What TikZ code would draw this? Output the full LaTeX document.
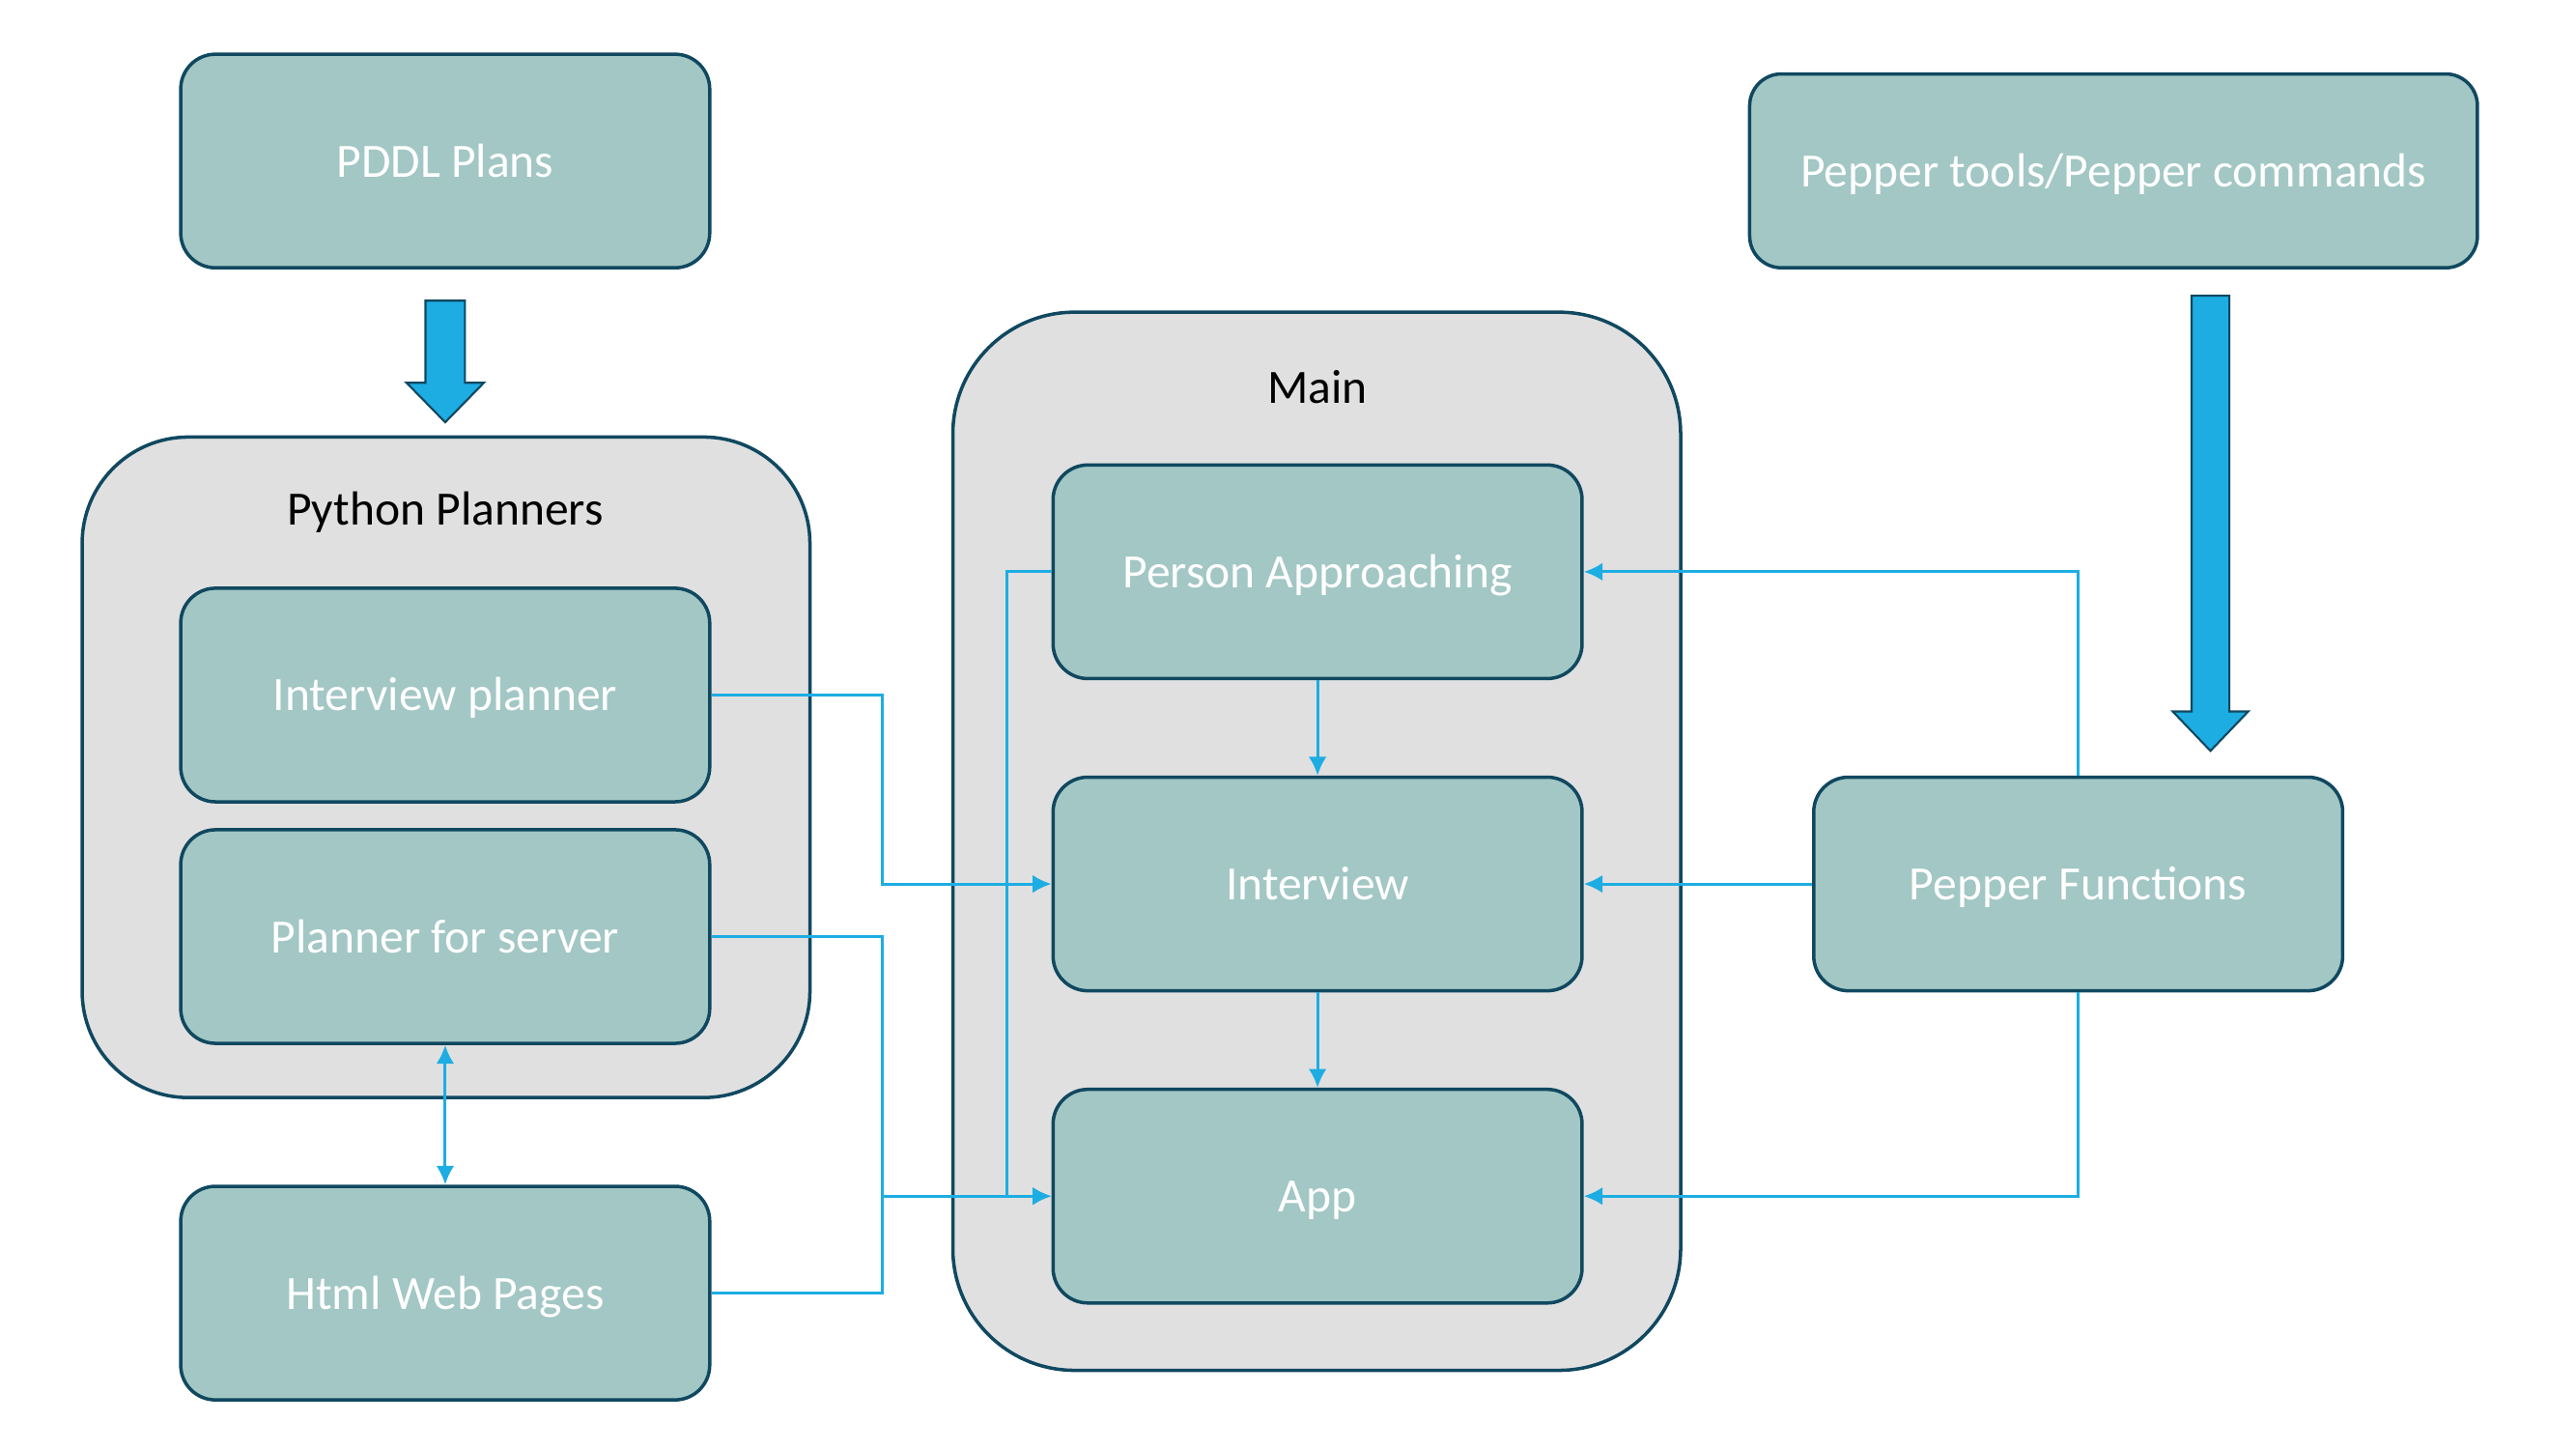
\documentclass[tikz,border=0pt]{standalone}
\usepackage{fontspec}
\setmainfont{Carlito}
\usetikzlibrary{arrows.meta}
\definecolor{boxc}{HTML}{A2C7C4}
\definecolor{bordc}{HTML}{104860}
\definecolor{contc}{HTML}{E0E0E0}
\definecolor{linec}{HTML}{1DADE3}
\def\u{0.017009cm}
\tikzset{
  box/.style={draw=bordc, fill=boxc, line width=1pt, rounded corners=0.36cm, text=white,
    font=\fontsize{14.1}{17}\selectfont, inner sep=0pt, text height=12.3pt, text depth=2.9pt,
    minimum width=322*\u, minimum height=130*\u},
  cont/.style={draw=bordc, fill=contc, line width=1pt, inner sep=0pt},
  title/.style={text=black, font=\fontsize{14.1}{17}\selectfont, inner sep=0pt, text height=12.3pt, text depth=2.9pt},
  conn/.style={draw=linec, line width=0.85pt, -{Latex[length=5.5pt,width=5.3pt]}},
  plain/.style={draw=linec, line width=0.85pt},
  bigarrow/.style={fill=linec, draw=bordc, line width=0.6pt, line join=miter},
}
\begin{document}
\begin{tikzpicture}[x=\u, y=-\u]
\useasboundingbox (0,0) rectangle (1568,882);
% containers
\node[cont, rounded corners=1.1cm, minimum width=443*\u, minimum height=402*\u] (pyc) at (271.5,467) {};
\node[title] (pyt) at (271,310) {Python Planners};
\node[cont, rounded corners=1.26cm, minimum width=443*\u, minimum height=644*\u] (mainc) at (801.5,512) {};
\node[title] (maint) at (802,236) {Main};
% boxes
\node[box] (pddl) at (271,98) {PDDL Plans};
\node[box] (ip) at (271,423) {Interview planner};
\node[box] (ps) at (271,570) {Planner for server};
\node[box] (html) at (271,787) {Html Web Pages};
\node[box] (pa) at (802,348) {Person Approaching};
\node[box] (iv) at (802,538) {Interview};
\node[box] (app) at (802,728) {App};
\node[box, minimum width=443*\u, minimum height=118*\u, rounded corners=0.33cm] (pt) at (1286.5,104) {Pepper tools/Pepper commands};
\node[box] (pf) at (1265,538) {Pepper Functions};
% block arrows
\draw[bigarrow] (259,183) -- (283,183) -- (283,233) -- (294.5,233) -- (271,257) -- (247.5,233) -- (259,233) -- cycle;
\draw[bigarrow] (1334,180) -- (1357,180) -- (1357,433) -- (1368.5,433) -- (1345.5,457) -- (1322.5,433) -- (1334,433) -- cycle;
% junction columns
\coordinate (j1) at (537,0);
\coordinate (j2) at (613,0);
% connectors
\draw[conn] (ip.east) -- (ip.east -| j1) -- (j1 |- iv.west) -- (iv.west);
\draw[conn] (ps.east) -- (ps.east -| j1) -- (j1 |- app.west) -- (app.west);
\draw[plain] (html.east) -- (html.east -| j1) -- (j1 |- app.west);
\draw[conn] (pa.west) -- (pa.west -| j2) -- (j2 |- app.west) -- (app.west);
\draw[{Latex[length=5.5pt,width=5.3pt]}-{Latex[length=5.5pt,width=5.3pt]}, draw=linec, line width=0.85pt] (ps.south) -- (html.north);
\draw[conn] (pa.south) -- (iv.north);
\draw[conn] (iv.south) -- (app.north);
\draw[conn] (pf.north) |- (pa.east);
\draw[conn] (pf.west) -- (iv.east);
\draw[conn] (pf.south) |- (app.east);
\end{tikzpicture}
\end{document}
